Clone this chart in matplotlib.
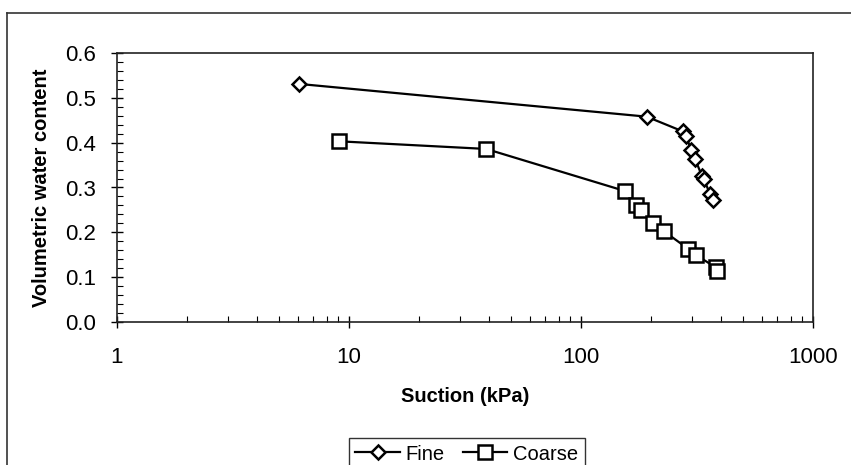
import numpy as np
import matplotlib.pyplot as plt
from matplotlib.lines import Line2D
from matplotlib.ticker import LogLocator, MultipleLocator, FixedLocator

# Soil-water characteristic curves
fine_suction = [6.1, 192, 275, 284, 298, 310, 332, 339, 360, 371]
fine_theta = [0.531, 0.458, 0.425, 0.415, 0.384, 0.364, 0.326, 0.318, 0.285, 0.272]

coarse_suction = [9.1, 39, 155, 172, 181, 204, 227, 290, 312, 380, 387]
coarse_theta = [0.403, 0.386, 0.292, 0.261, 0.249, 0.221, 0.203, 0.163, 0.150, 0.122, 0.114]

xticks = [1, 10, 100, 1000]
xticklabels = ['1', '10', '100', '1000']

plt.rcParams['font.family'] = ['Liberation Sans', 'DejaVu Sans']

fig = plt.figure(figsize=(8.51, 4.65), dpi=100)
ax = fig.add_axes([117 / 851, 1 - 322 / 465, (813 - 117) / 851, (322 - 53) / 465])

ax.plot(fine_suction, fine_theta, '-', color='black', lw=1.6, marker='D',
        ms=7.5, mfc='white', mec='black', mew=1.8, label='Fine')
ax.plot(coarse_suction, coarse_theta, '-', color='black', lw=1.6, marker='s',
        ms=10, mfc='white', mec='black', mew=1.8, label='Coarse')

ax.set_xscale('log')
ax.set_xlim(1, 1000)
ax.set_ylim(0, 0.6)
ax.xaxis.set_major_locator(FixedLocator(xticks))
ax.set_xticklabels(xticklabels)
ax.xaxis.set_minor_locator(LogLocator(base=10, subs=np.arange(2, 10)))
ax.xaxis.set_minor_formatter(plt.NullFormatter())
ax.yaxis.set_major_locator(MultipleLocator(0.1))
ax.yaxis.set_minor_locator(MultipleLocator(0.02))
ax.yaxis.set_major_formatter(plt.FormatStrFormatter('%.1f'))

ax.tick_params(which='major', direction='inout', length=8, width=1, labelsize=16)
ax.tick_params(axis='y', which='major', pad=11)
ax.tick_params(axis='x', which='major', pad=14)
ax.tick_params(which='minor', direction='in', length=4, width=0.8)
for s in ax.spines.values():
    s.set_linewidth(1.2)
    s.set_color('#222222')

ax.set_xlabel('Suction (kPa)', fontsize=14.5, fontweight='bold', labelpad=14)
ax.set_ylabel('Volumetric water content', fontsize=14.5, fontweight='bold', labelpad=10)

leg = fig.legend(loc='center', bbox_to_anchor=(467 / 851, 1 - 454 / 465), ncol=2,
                 frameon=True, fancybox=False, fontsize=14.5, handlelength=2.2,
                 columnspacing=0.9, handletextpad=0.3, borderpad=0.3, borderaxespad=0)
leg.get_frame().set_edgecolor('black')
leg.get_frame().set_linewidth(1.0)

# outer chart-area border (left and top edges visible)
fig.add_artist(Line2D([7 / 851, 7 / 851], [0, 1 - 13 / 465], transform=fig.transFigure,
                      color='#333333', lw=1.2))
fig.add_artist(Line2D([7 / 851, 1], [1 - 13 / 465, 1 - 13 / 465], transform=fig.transFigure,
                      color='#333333', lw=1.2))

fig.savefig('out.png', dpi=100)
